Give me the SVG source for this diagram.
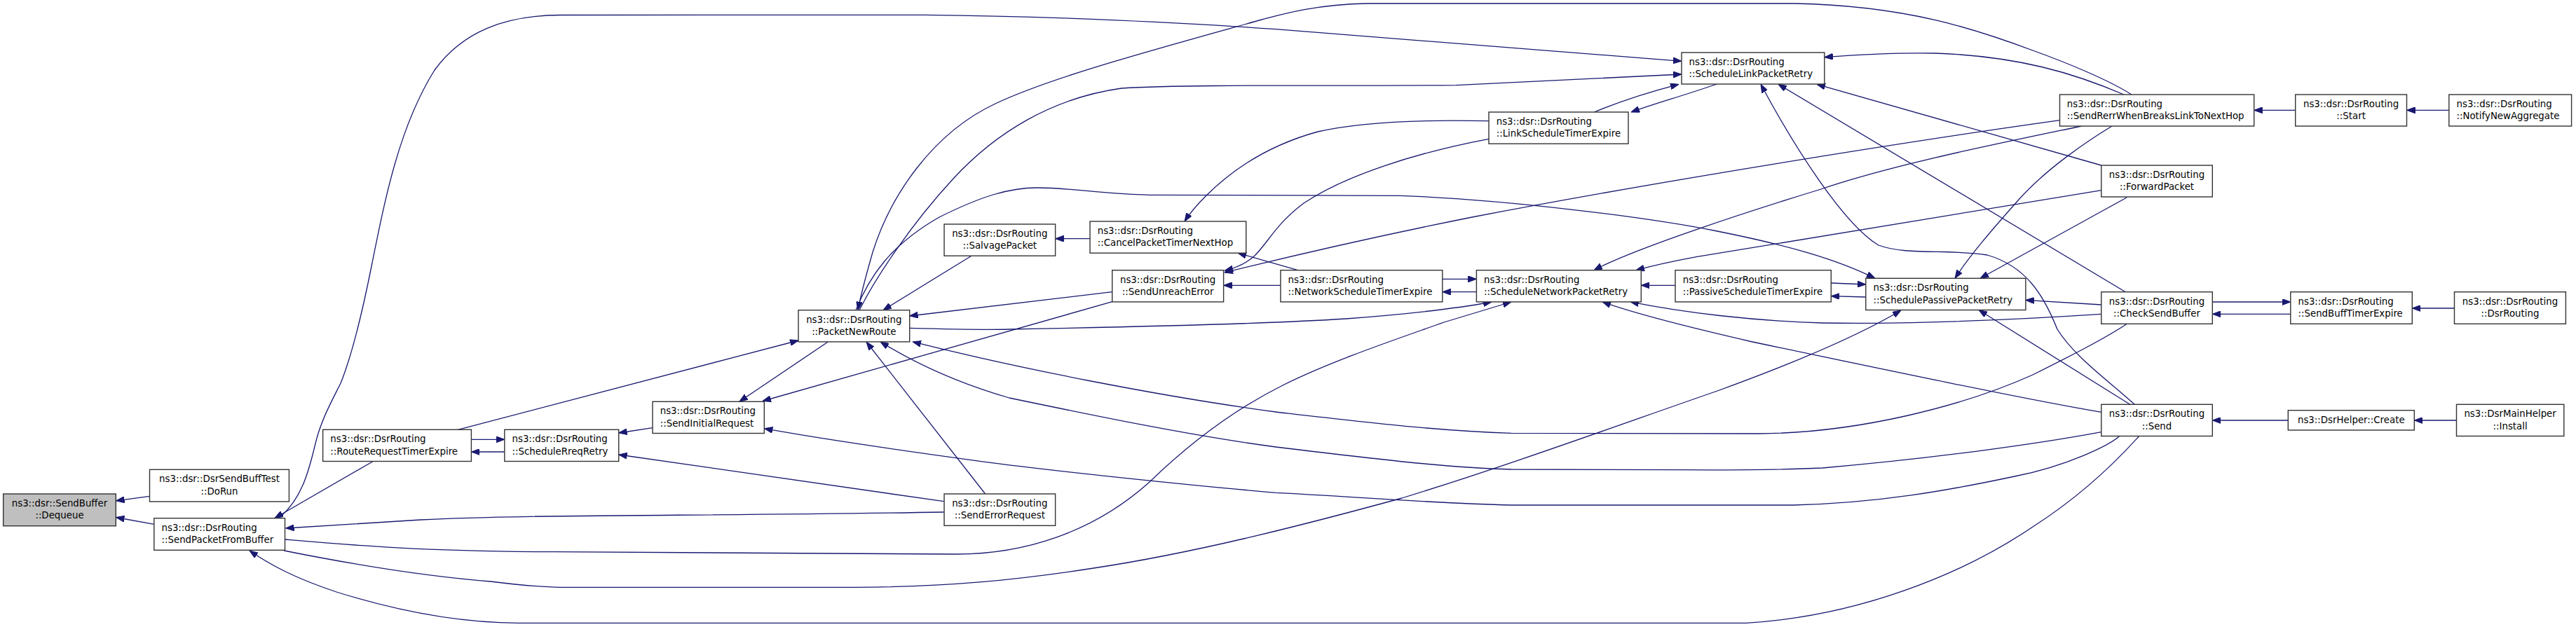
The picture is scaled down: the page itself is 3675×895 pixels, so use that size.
<svg xmlns="http://www.w3.org/2000/svg" width="3675" height="895" viewBox="0 0 3675 895">
<style>
.n rect{fill:#ffffff;stroke:#333333;stroke-width:1.4}
.n rect.g{fill:#bfbfbf}
.n text{font-family:"DejaVu Sans","Liberation Sans",sans-serif;font-size:13.33px;fill:#000000}
.n text.c{text-anchor:middle}
#edges path{fill:none;stroke:#191970;stroke-width:1.3;marker-end:url(#ah)}
</style>
<defs>
<marker id="ah" viewBox="0 0 12 9" markerWidth="12" markerHeight="9" refX="12" refY="4.5" orient="auto" markerUnits="userSpaceOnUse">
<path d="M0,0 L12,4.5 L0,9 Z" fill="#191970" stroke="#191970" stroke-width="1"/>
</marker>
</defs>
<rect x="0" y="0" width="3675" height="895" fill="#ffffff"/>
<g id="edges">
<path d="M213.5,708.3 L165.5,714.8"/>
<path d="M219.8,748.3 L165.5,738.5"/>
<path d="M531.8,658.7 L392,739.5"/>
<path d="M399.4,738.3 C430,712 440,675 450,633 C458,600 472,575 486,547 C505,500 520,430 530,380 C550,280 570,180 620,100 C660,45 720,22 800,21.5 L1320,21.3 C1500,23 1700,33 1820,41.7 L2399,87.3"/>
<path d="M1346.3,731 C1000,737 750,734 600,742 L407.5,754"/>
<path d="M406.5,770 C500,778 600,787 790,787.7 L1360,791 C1460,792 1560,760 1640,688 C1700,630 1760,585 1830,550 C1900,515 1990,485 2060,460 L2156,431"/>
<path d="M405.3,786 C500,805 600,822 700,830 C740,835 770,838 800,838.3 L1220,838.3 C1350,838 1450,828 1560,811 C1700,790 1850,752 2000,711 C2150,665 2300,610 2450,558 C2560,518 2650,480 2712,443"/>
<path d="M3051.7,622.5 C3000,680 2950,720 2900,752 C2800,820 2650,880 2491,889.3 L740,889.3 C650,889 560,870 480,845 C420,825 385,806 356,786"/>
<path d="M653.4,613.3 L1139,486"/>
<path d="M672.4,627.3 L719.8,627.3"/>
<path d="M719.8,645 L672.4,645"/>
<path d="M931,610.7 L882.7,618"/>
<path d="M1346.3,715.7 L882.7,649"/>
<path d="M1181.2,488 L1054.8,573.3"/>
<path d="M1586.7,430.7 L1088,572.5"/>
<path d="M3023.7,622.5 C3010,635 2950,665 2874,680 C2780,700 2680,718 2558,721 L2156,721 C2050,719 1920,708 1820,703.3 C1700,693 1500,672 1397.7,658.3 C1300,645 1180,628 1090.3,611.7"/>
<path d="M1385.8,365.2 L1260,442.7"/>
<path d="M1555,340.7 L1505.6,340.7"/>
<path d="M1586.7,416.7 L1297.7,451"/>
<path d="M1405.6,705 L1236,488"/>
<path d="M3040.9,135 C3010,115 2950,90 2900,72 C2820,42 2720,8 2560,5 L1950,5 C1880,6 1830,20 1800,28 C1650,70 1500,110 1420,148 C1330,190 1270,280 1245,360 C1235,395 1228,420 1224,442.7"/>
<path d="M1226,442.7 C1250,395 1300,320 1360,255 C1420,190 1500,140 1600,126 C1700,120 1900,123 2077,121.7 L2399,106"/>
<path d="M1221,442.7 C1240,395 1270,350 1340,310 C1400,280 1440,268 1480,268 C1530,268 1570,277 1640,278.3 L1998,279.3 C2150,285 2350,310 2450,330 C2550,350 2620,370 2675,397.3"/>
<path d="M1297.7,468.3 C1360,470 1400,471 1440,470 C1600,467 1800,463 1920,455 C2000,449 2080,440 2128,431"/>
<path d="M3034.4,462.3 C3000,485 2950,510 2900,535 C2800,580 2650,618 2510,619 L2156,618.3 C2050,615 1950,603 1820,588 C1650,565 1450,525 1302,487.9"/>
<path d="M2997.8,616.7 C2900,635 2750,655 2600,668 C2530,671 2460,671 2400,670.7 L2156,670 C2080,668 2000,660 1820,638 C1700,622 1560,593 1440,568 C1360,545 1300,515 1256,487.9"/>
<path d="M2124,172.7 C2050,171 1950,172 1880,188 C1800,210 1750,250 1720,280 C1705,295 1697,305 1690,316"/>
<path d="M1851.4,385.7 L1766,361.2"/>
<path d="M2124,198.3 C2020,218 1920,250 1860,290 C1820,320 1810,345 1790,365 C1778,376 1765,382 1747,386.5"/>
<path d="M2938.5,171.7 C2700,205 2350,262 2100,310 C1960,338 1840,366 1747,389"/>
<path d="M1826.9,407.3 L1745.6,407.3"/>
<path d="M2057.8,398.3 L2106.4,398.3"/>
<path d="M2106.4,416.7 L2057.8,416.7"/>
<path d="M2390,407.3 L2341.3,407.3"/>
<path d="M2969.4,180 C2850,205 2700,235 2598,270 C2500,300 2330,355 2274,385.7"/>
<path d="M2997.8,271.7 L2420,366.7 Q2370,376 2334,385.7"/>
<path d="M2997.8,588.3 C2900,572 2700,530 2500,488 C2400,465 2330,447 2286,430.9"/>
<path d="M2997.8,448.3 C2850,458 2700,463 2600,461 C2500,458 2400,446 2326,430.9"/>
<path d="M2274.5,160 C2310,145 2350,132 2395,120.3"/>
<path d="M2449.4,120 C2400,137 2360,148 2327,160"/>
<path d="M3030,135 C2960,105 2880,80 2760,76 C2700,75 2650,78 2602.8,81.7"/>
<path d="M2997.8,236 L2592,120.3"/>
<path d="M3032.3,416.7 L2537,120.3"/>
<path d="M3045.2,577.3 C3010,545 2960,510 2935,470 C2915,420 2890,380 2835,364 C2780,355 2720,365 2680,350 C2630,320 2560,210 2512,120.3"/>
<path d="M2612.3,404 L2661.8,406"/>
<path d="M2661.8,424 L2612.3,422.7"/>
<path d="M3013,180 C2980,200 2920,240 2880,285 C2840,330 2810,365 2789,397.3"/>
<path d="M3034.4,281.7 L2825,397.3"/>
<path d="M2997.8,435 L2889.9,428.3"/>
<path d="M3038.7,577.3 L2823,442.5"/>
<path d="M3274.7,157.3 L3215.7,157.3"/>
<path d="M3493.8,157.3 L3433.5,157.3"/>
<path d="M3156.3,431 L3267.8,431"/>
<path d="M3267.8,448.3 L3156.3,448.3"/>
<path d="M3501.5,440 L3441.3,440"/>
<path d="M3264.3,600 L3156.3,600"/>
<path d="M3504.5,600 L3444.3,600"/>
</g>
<g id="dequeue" class="n"><rect class="g" x="4.7" y="705" width="160.6" height="45.7"/><text class="c" x="85" y="722.8">ns3::dsr::SendBuffer</text><text class="c" x="85" y="740.2">::Dequeue</text></g>
<g id="dorun" class="n"><rect x="213.5" y="670.3" width="198.9" height="45.7"/><text class="c" x="313" y="688.1">ns3::dsr::DsrSendBuffTest</text><text class="c" x="313" y="705.5">::DoRun</text></g>
<g id="sendPacketFromBuffer" class="n"><rect x="219.8" y="739.7" width="186.7" height="45.6"/><text x="230.5" y="757.5">ns3::dsr::DsrRouting</text><text x="230.5" y="774.9">::SendPacketFromBuffer</text></g>
<g id="routeRequestTimerExpire" class="n"><rect x="460.6" y="613.3" width="211.8" height="45.2"/><text x="471.3" y="631.1">ns3::dsr::DsrRouting</text><text x="471.3" y="648.5">::RouteRequestTimerExpire</text></g>
<g id="scheduleRreqRetry" class="n"><rect x="719.8" y="613.3" width="162.9" height="45.2"/><text x="730.5" y="631.1">ns3::dsr::DsrRouting</text><text x="730.5" y="648.5">::ScheduleRreqRetry</text></g>
<g id="sendInitialRequest" class="n"><rect x="931" y="573.3" width="159.3" height="45.2"/><text x="941.7" y="591.1">ns3::dsr::DsrRouting</text><text x="941.7" y="608.5">::SendInitialRequest</text></g>
<g id="packetNewRoute" class="n"><rect x="1139" y="442.7" width="158.7" height="45.2"/><text class="c" x="1218.3" y="460.5">ns3::dsr::DsrRouting</text><text class="c" x="1218.3" y="477.9">::PacketNewRoute</text></g>
<g id="salvagePacket" class="n"><rect x="1347" y="320" width="158.6" height="45.2"/><text class="c" x="1426.3" y="337.8">ns3::dsr::DsrRouting</text><text class="c" x="1426.3" y="355.2">::SalvagePacket</text></g>
<g id="cancelPacketTimerNextHop" class="n"><rect x="1555" y="316" width="222.7" height="45.2"/><text x="1565.7" y="333.8">ns3::dsr::DsrRouting</text><text x="1565.7" y="351.2">::CancelPacketTimerNextHop</text></g>
<g id="sendUnreachError" class="n"><rect x="1586.7" y="385.7" width="158.9" height="45.2"/><text class="c" x="1666.1" y="403.5">ns3::dsr::DsrRouting</text><text class="c" x="1666.1" y="420.9">::SendUnreachError</text></g>
<g id="sendErrorRequest" class="n"><rect x="1347" y="705" width="158.6" height="45.3"/><text class="c" x="1426.3" y="722.8">ns3::dsr::DsrRouting</text><text class="c" x="1426.3" y="740.2">::SendErrorRequest</text></g>
<g id="linkScheduleTimerExpire" class="n"><rect x="2124" y="160" width="199" height="45.2"/><text x="2134.7" y="177.8">ns3::dsr::DsrRouting</text><text x="2134.7" y="195.2">::LinkScheduleTimerExpire</text></g>
<g id="networkScheduleTimerExpire" class="n"><rect x="1826.9" y="385.7" width="230.9" height="45.2"/><text x="1837.6" y="403.5">ns3::dsr::DsrRouting</text><text x="1837.6" y="420.9">::NetworkScheduleTimerExpire</text></g>
<g id="scheduleNetworkPacketRetry" class="n"><rect x="2106.4" y="385.7" width="234.9" height="45.2"/><text x="2117.1" y="403.5">ns3::dsr::DsrRouting</text><text x="2117.1" y="420.9">::ScheduleNetworkPacketRetry</text></g>
<g id="passiveScheduleTimerExpire" class="n"><rect x="2390" y="385.7" width="222.3" height="45.2"/><text x="2400.7" y="403.5">ns3::dsr::DsrRouting</text><text x="2400.7" y="420.9">::PassiveScheduleTimerExpire</text></g>
<g id="scheduleLinkPacketRetry" class="n"><rect x="2399" y="75" width="203.8" height="45"/><text x="2409.5" y="92.8">ns3::dsr::DsrRouting</text><text x="2409.5" y="110.2">::ScheduleLinkPacketRetry</text></g>
<g id="schedulePassivePacketRetry" class="n"><rect x="2661.8" y="397.3" width="228.1" height="45.2"/><text x="2672.5" y="415.1">ns3::dsr::DsrRouting</text><text x="2672.5" y="432.5">::SchedulePassivePacketRetry</text></g>
<g id="sendRerrWhenBreaksLinkToNextHop" class="n"><rect x="2938.5" y="135" width="277.2" height="45"/><text x="2948.8" y="152.8">ns3::dsr::DsrRouting</text><text x="2948.8" y="170.2">::SendRerrWhenBreaksLinkToNextHop</text></g>
<g id="forwardPacket" class="n"><rect x="2997.8" y="236" width="158.5" height="45"/><text class="c" x="3077" y="253.8">ns3::dsr::DsrRouting</text><text class="c" x="3077" y="271.2">::ForwardPacket</text></g>
<g id="checkSendBuffer" class="n"><rect x="2997.8" y="416.7" width="158.5" height="45.6"/><text class="c" x="3077" y="434.5">ns3::dsr::DsrRouting</text><text class="c" x="3077" y="451.9">::CheckSendBuffer</text></g>
<g id="send" class="n"><rect x="2997.8" y="577.3" width="158.5" height="45.2"/><text class="c" x="3077" y="595.1">ns3::dsr::DsrRouting</text><text class="c" x="3077" y="612.5">::Send</text></g>
<g id="start" class="n"><rect x="3274.7" y="135" width="158.8" height="45"/><text class="c" x="3354.1" y="152.8">ns3::dsr::DsrRouting</text><text class="c" x="3354.1" y="170.2">::Start</text></g>
<g id="notifyNewAggregate" class="n"><rect x="3493.8" y="135" width="174.8" height="45"/><text x="3504.5" y="152.8">ns3::dsr::DsrRouting</text><text x="3504.5" y="170.2">::NotifyNewAggregate</text></g>
<g id="sendBuffTimerExpire" class="n"><rect x="3267.8" y="416.7" width="173.5" height="45.6"/><text x="3278.5" y="434.5">ns3::dsr::DsrRouting</text><text x="3278.5" y="451.9">::SendBuffTimerExpire</text></g>
<g id="dsrRoutingCtor" class="n"><rect x="3501.5" y="416.7" width="158.9" height="45.6"/><text class="c" x="3581" y="434.5">ns3::dsr::DsrRouting</text><text class="c" x="3581" y="451.9">::DsrRouting</text></g>
<g id="dsrHelperCreate" class="n"><rect x="3264.3" y="585.7" width="180" height="28.3"/><text class="c" x="3354.3" y="604.3">ns3::DsrHelper::Create</text></g>
<g id="dsrMainHelperInstall" class="n"><rect x="3504.5" y="577.3" width="153.3" height="45.2"/><text class="c" x="3581.1" y="595.1">ns3::DsrMainHelper</text><text class="c" x="3581.1" y="612.5">::Install</text></g>
</svg>
